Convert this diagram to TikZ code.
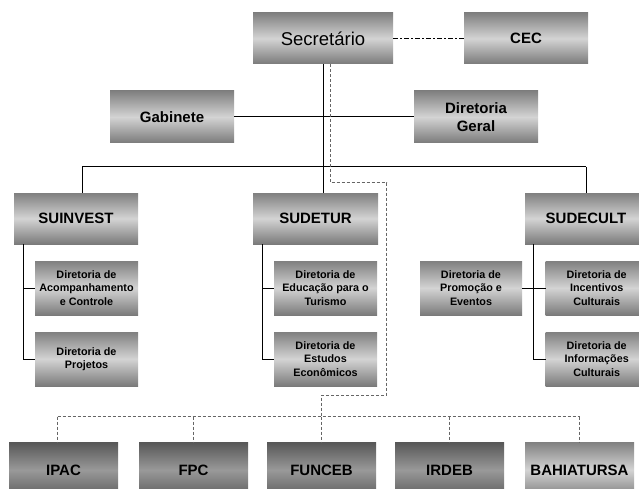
\documentclass[tikz,border=0pt]{standalone}
\usepackage{fontspec}
\setmainfont{Liberation Sans}
\usetikzlibrary{positioning}

\begin{document}
\begin{tikzpicture}[x=1pt,y=-1pt,
  box/.style={draw=none, top color=black!50, bottom color=black!52, middle color=black!17,
    inner sep=0pt, align=center, font=\bfseries\fontsize{15}{18}\selectfont},
  darkbox/.style={box, top color=black!66, bottom color=black!64, middle color=black!40,
    minimum width=109, minimum height=56},
  subbox/.style={box, minimum width=103, minimum height=54,
    font=\bfseries\fontsize{10.8}{13.3}\selectfont},
  link/.style={line width=1pt},
  dotlink/.style={black!60, line width=0.8pt, dash pattern=on 3pt off 2pt}]
 %page frame
  \useasboundingbox (0,0) rectangle (639,489);
 %top of the chart
  \node[box, minimum width=140, minimum height=51, font=\fontsize{18.5}{22}\selectfont] (sec) at (323,38.5) {Secret\'ario};
  \node[box, minimum width=124, minimum height=51] (cec) at (526,38.5) {CEC};
  \node[box, minimum width=124, minimum height=52] (gab) at (172,117) {Gabinete};
  \node[box, minimum width=124, minimum height=52] (dg) at (476,117) {Diretoria\\Geral};
 %superintendencies
  \node[box, minimum width=124, minimum height=51] (suinvest) at (76,218.5) {SUINVEST};
  \node[box, minimum width=125, minimum height=51] (sudetur) at (315.5,218.5) {SUDETUR};
  \node[box, minimum width=122, minimum height=51] (sudecult) at (586,218.5) {SUDECULT};
 %directorates
  \node[subbox] (sia) at (86.5,288) {Diretoria de\\Acompanhamento\\e Controle};
  \node[subbox] (sib) at (86.5,359) {Diretoria de\\Projetos};
  \node[subbox] (sda) at (325.5,288) {Diretoria de\\Educa\c{c}\~ao para o\\Turismo};
  \node[subbox] (sdb) at (325.5,359) {Diretoria de\\Estudos\\Econ\^omicos};
  \node[subbox, minimum width=102] (scp) at (471,288) {Diretoria de\\Promo\c{c}\~ao e\\Eventos};
  \node[subbox, minimum width=102] (sca) at (596.7,288) {Diretoria de\\Incentivos\\Culturais};
  \node[subbox, minimum width=102] (scb) at (596.7,359) {Diretoria de\\Informa\c{c}\~oes\\Culturais};
 %linked bodies
  \node[darkbox] (ipac) at (63.5,470) {IPAC};
  \node[darkbox] (fpc) at (193.5,470) {FPC};
  \node[darkbox] (funceb) at (321.5,470) {FUNCEB};
  \node[darkbox] (irdeb) at (449.5,470) {IRDEB};
  \node[box, minimum width=109, minimum height=56] (bahia) at (579.5,470) {BAHIATURSA};
 %draw solid edges
  \coordinate (barL) at (82.3,167);
  \coordinate (barR) at (586,167);
  \draw[link] (sec.south) -- (sec.south |- sudetur.north);
  \draw[link] (gab.east) -- (dg.west);
  \draw[link] (barL) -- (barR);
  \draw[link] (barL) -- (barL |- suinvest.north);
  \draw[link] (barR) -- (sudecult.north);
  \draw[link] ([xshift=9.3]suinvest.south west) |- (sia.west);
  \draw[link] ([xshift=9.3]suinvest.south west) |- (sib.west);
  \draw[link] ([xshift=10]sudetur.south west) |- (sda.west);
  \draw[link] ([xshift=10]sudetur.south west) |- (sdb.west);
  \draw[link] ([xshift=8.3]sudecult.south west) |- (sca.west);
  \draw[link] ([xshift=8.3]sudecult.south west) |- (scb.west);
  \draw[link] (scp.east) -- (sca.west);
  \draw[link, dash pattern=on 5pt off 2pt on 2pt off 2pt] (sec.east) -- (cec.west);
 %draw dashed edges
  \coordinate (hub) at (321.7,416.7);
  \draw[dotlink] ([xshift=7]sec.south) |- (386.7,182.7) |- (hub |- 0,395) -- (hub);
  \draw[dotlink] ([xshift=-6]ipac.north |- hub) -- (bahia.north |- hub);
  \draw[dotlink] ([xshift=-6]ipac.north |- hub) -- ([xshift=-6]ipac.north);
  \foreach \n in {fpc,funceb,irdeb,bahia}
    \draw[dotlink] (\n.north |- hub) -- (\n.north);
\end{tikzpicture}
\end{document}
